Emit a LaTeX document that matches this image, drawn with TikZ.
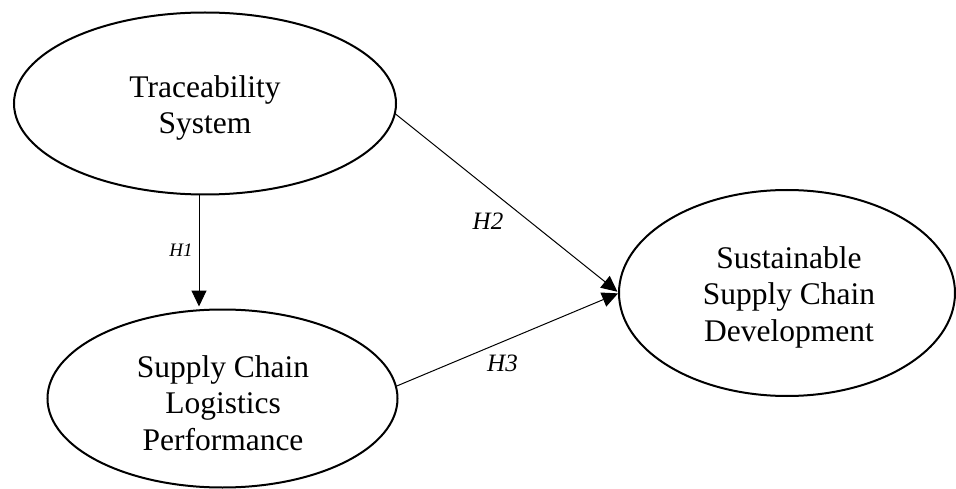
\documentclass[tikz,border=0pt]{standalone}
\usepackage{fontspec}
\setmainfont{Liberation Serif}
\usetikzlibrary{shapes.geometric,arrows.meta}
\begin{document}
\begin{tikzpicture}[x=1pt,y=-1pt,
  ell/.style={draw,ellipse,line width=2pt,inner sep=0pt,outer sep=0pt},
  txt/.style={align=center,inner sep=0pt,font=\fontsize{31.5}{36.5}\selectfont},
  hyp/.style={inner sep=0pt,font=\itshape\fontsize{25}{30}\selectfont},
  conn/.style={line width=1pt,-{Triangle[width=15pt,length=16pt]}}]
\useasboundingbox (0,0) rectangle (956,489);
\node[ell,minimum width=382pt,minimum height=182pt] (ts) at (205,103.5) {};
\node[ell,minimum width=350pt,minimum height=178pt] (sc) at (222.5,398.5) {};
\node[ell,minimum width=336pt,minimum height=206pt] (ss) at (787,293) {};
\node[txt] (tst) at (205,108) {Traceability\\System};
\node[txt] (sct) at (223,403) {Supply Chain\\Logistics\\Performance};
\node[txt] (sst) at (789,297.4) {Sustainable\\Supply Chain\\Development};
\draw[conn,shorten >=3pt] ([xshift=-6pt]ts.south) -- ([xshift=-6pt]ts.south |- sc.north);
\draw[conn,shorten >=2pt] (ts.-3) -- (ss.west);
\draw[conn,shorten >=1pt] (sc.4) -- (ss.west);
\node[hyp,font=\itshape\fontsize{19}{22}\selectfont] (h1) at (181,250.5) {H1};
\node[hyp] (h2) at (488,221.5) {H2};
\node[hyp] (h3) at (502.5,363.5) {H3};
\end{tikzpicture}
\end{document}
